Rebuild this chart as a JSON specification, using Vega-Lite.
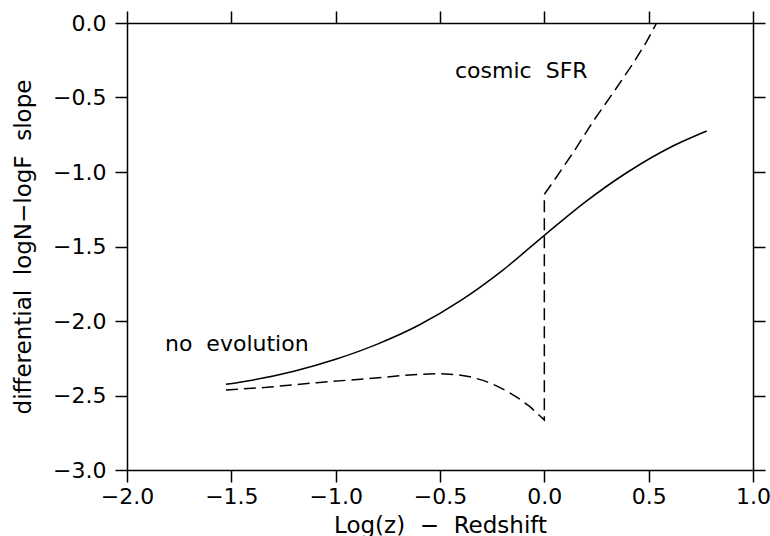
{
  "$schema": "https://vega.github.io/schema/vega-lite/v6.json",
  "width": 626,
  "height": 447,
  "autosize": "none",
  "padding": {"left": 127, "top": 23, "right": 17, "bottom": 66},
  "background": "white",
  "config": {
    "view": {"stroke": null},
    "font": "DejaVu Sans",
    "axis": {
      "grid": false,
      "domainColor": "black",
      "domainWidth": 1.5,
      "tickColor": "black",
      "tickWidth": 1.5,
      "tickSize": 12,
      "labelFont": "DejaVu Sans",
      "labelFontSize": 22,
      "labelColor": "black",
      "labelFlush": false,
      "labelOverlap": false,
      "titleFont": "DejaVu Sans",
      "titleFontSize": 23,
      "titleFontWeight": "normal",
      "titleColor": "black"
    }
  },
  "datasets": {
    "solid": [
      {"series": "no evolution", "x": -1.526, "y": -2.425},
      {"series": "no evolution", "x": -1.4, "y": -2.397},
      {"series": "no evolution", "x": -1.2, "y": -2.337},
      {"series": "no evolution", "x": -1.0, "y": -2.257},
      {"series": "no evolution", "x": -0.8, "y": -2.155},
      {"series": "no evolution", "x": -0.6, "y": -2.027},
      {"series": "no evolution", "x": -0.4, "y": -1.862},
      {"series": "no evolution", "x": -0.2, "y": -1.66},
      {"series": "no evolution", "x": 0.0, "y": -1.425},
      {"series": "no evolution", "x": 0.2, "y": -1.197},
      {"series": "no evolution", "x": 0.4, "y": -1.0},
      {"series": "no evolution", "x": 0.6, "y": -0.837},
      {"series": "no evolution", "x": 0.778, "y": -0.725}
    ],
    "dashed": [
      {"series": "cosmic SFR", "i": 1, "x": -1.526, "y": -2.463},
      {"series": "cosmic SFR", "i": 2, "x": -1.33, "y": -2.445},
      {"series": "cosmic SFR", "i": 3, "x": -1.09, "y": -2.414},
      {"series": "cosmic SFR", "i": 4, "x": -0.851, "y": -2.387},
      {"series": "cosmic SFR", "i": 5, "x": -0.628, "y": -2.36},
      {"series": "cosmic SFR", "i": 6, "x": -0.5, "y": -2.353},
      {"series": "cosmic SFR", "i": 7, "x": -0.42, "y": -2.36},
      {"series": "cosmic SFR", "i": 8, "x": -0.356, "y": -2.374},
      {"series": "cosmic SFR", "i": 9, "x": -0.29, "y": -2.4},
      {"series": "cosmic SFR", "i": 10, "x": -0.229, "y": -2.435},
      {"series": "cosmic SFR", "i": 11, "x": -0.17, "y": -2.478},
      {"series": "cosmic SFR", "i": 12, "x": -0.117, "y": -2.525},
      {"series": "cosmic SFR", "i": 13, "x": -0.069, "y": -2.575},
      {"series": "cosmic SFR", "i": 14, "x": -0.03, "y": -2.625},
      {"series": "cosmic SFR", "i": 15, "x": 0.0, "y": -2.665},
      {"series": "cosmic SFR", "i": 16, "x": 0.0, "y": -1.15},
      {"series": "cosmic SFR", "i": 17, "x": 0.06, "y": -1.03},
      {"series": "cosmic SFR", "i": 18, "x": 0.139, "y": -0.868},
      {"series": "cosmic SFR", "i": 19, "x": 0.234, "y": -0.66},
      {"series": "cosmic SFR", "i": 20, "x": 0.33, "y": -0.468},
      {"series": "cosmic SFR", "i": 21, "x": 0.426, "y": -0.27},
      {"series": "cosmic SFR", "i": 22, "x": 0.49, "y": -0.125},
      {"series": "cosmic SFR", "i": 23, "x": 0.538, "y": 0.0}
    ],
    "labels": [
      {"label": "cosmic\u00a0\u00a0SFR", "x": -0.428, "y": -0.369},
      {"label": "no\u00a0\u00a0evolution", "x": -1.818, "y": -2.199}
    ]
  },
  "layer": [
    {
      "data": {"name": "solid"},
      "mark": {"type": "line", "color": "black", "strokeWidth": 1.5, "interpolate": "monotone"},
      "encoding": {
        "x": {
          "field": "x", "type": "quantitative",
          "scale": {"domain": [-2, 1], "nice": false, "zero": false},
          "axis": {
            "orient": "bottom",
            "values": [-2, -1.5, -1, -0.5, 0, 0.5, 1],
            "format": ".1f",
            "labelPadding": 4,
            "title": "Log(z)\u00a0\u00a0−\u00a0\u00a0Redshift",
            "titleY": 62,
            "titleBaseline": "alphabetic"
          }
        },
        "y": {
          "field": "y", "type": "quantitative",
          "scale": {"domain": [-3, 0], "nice": false, "zero": false},
          "axis": {
            "orient": "left",
            "values": [-3, -2.5, -2, -1.5, -1, -0.5, 0],
            "format": ".1f",
            "labelPadding": 9,
            "title": "differential\u00a0\u00a0logN−logF\u00a0\u00a0slope",
            "titleAngle": -90,
            "titleX": -97,
            "titleY": 223.5,
            "titleAlign": "center",
            "titleBaseline": "alphabetic"
          }
        }
      }
    },
    {
      "data": {"name": "dashed"},
      "mark": {"type": "line", "color": "black", "strokeWidth": 1.5, "strokeDash": [12, 6], "interpolate": "linear"},
      "encoding": {
        "x": {"field": "x", "type": "quantitative", "axis": null},
        "y": {"field": "y", "type": "quantitative", "axis": null},
        "order": {"field": "i", "type": "quantitative"}
      }
    },
    {
      "data": {"name": "labels"},
      "mark": {"type": "text", "align": "left", "baseline": "alphabetic", "fontSize": 22, "font": "DejaVu Sans", "color": "black"},
      "encoding": {
        "x": {
          "field": "x", "type": "quantitative",
          "axis": {"orient": "top", "values": [-2, -1.5, -1, -0.5, 0, 0.5, 1], "labels": false, "title": null}
        },
        "y": {
          "field": "y", "type": "quantitative",
          "axis": {"orient": "right", "values": [-3, -2.5, -2, -1.5, -1, -0.5, 0], "labels": false, "title": null}
        },
        "text": {"field": "label"}
      }
    }
  ],
  "resolve": {"axis": {"x": "independent", "y": "independent"}}
}
